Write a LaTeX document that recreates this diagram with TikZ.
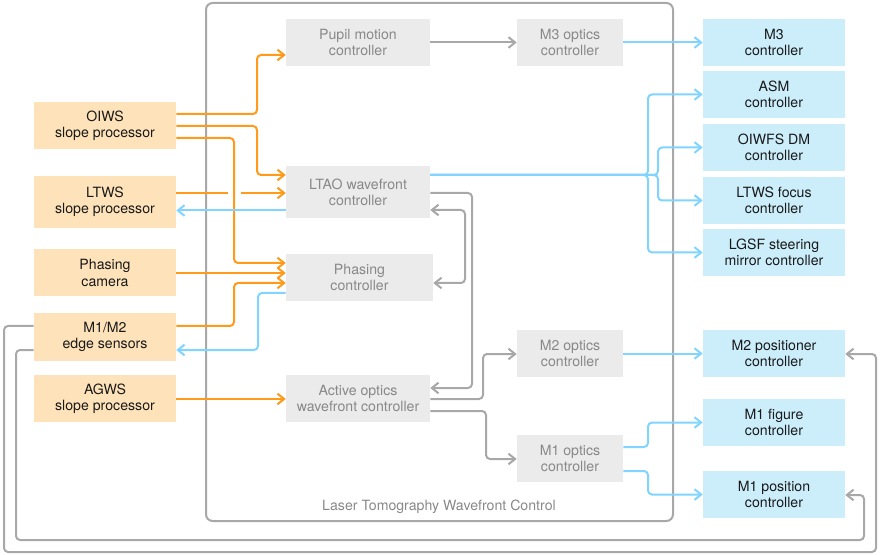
\documentclass[tikz,border=0pt]{standalone}
\usepackage{fontspec}
\setmainfont{TeX Gyre Heros}
\usepackage{tikz}
\usetikzlibrary{calc,arrows.meta}
\definecolor{srcfill}{HTML}{FEE3BA}
\definecolor{ctlfill}{HTML}{EBEBEB}
\definecolor{actfill}{HTML}{CCEEFB}
\definecolor{oline}{HTML}{FF9A1A}
\definecolor{bline}{HTML}{80D4FF}
\definecolor{gline}{HTML}{A8A8A8}
\definecolor{gtext}{HTML}{888888}
\tikzset{
    box/.style={inner sep=0pt, align=center, font=\fontsize{10.6}{12.2}\selectfont, minimum height=35.25pt},
    srcbox/.style={box, fill=srcfill, text=black!90, minimum width=106.5pt},
    ctlbox/.style={box, fill=ctlfill, text=gtext, minimum width=108pt},
    optbox/.style={box, fill=ctlfill, text=gtext, minimum width=79.5pt},
    actbox/.style={box, fill=actfill, text=black!90, minimum width=106.5pt},
    link/.style={line width=1.5pt, rounded corners=3pt, -{Straight Barb[length=5pt, width=8pt]}},
    olink/.style={link, draw=oline},
    blink/.style={link, draw=bline},
    glink/.style={link, draw=gline}
}
\begin{document}
\begin{tikzpicture}[x=0.75pt, y=-0.75pt]
    \useasboundingbox (0,0) rectangle (880,555);
    % frame
    \draw[gline, line width=1.5pt, rounded corners=5pt] (206,3) rectangle (673,521);
    \node[text=gtext, font=\fontsize{10.6}{12}\selectfont] (frame) at (439,507) {Laser Tomography Wavefront Control};
    % sources
    \node[srcbox] (oiws) at (105,125.5) {OIWS\\slope processor};
    \node[srcbox, minimum height=39pt] (ltws) at (105,202) {LTWS\\slope processor};
    \node[srcbox] (phcam) at (105,273) {Phasing\\camera};
    \node[srcbox] (m1m2) at (105,337) {M1/M2\\edge sensors};
    \node[srcbox] (agws) at (105,398.5) {AGWS\\slope processor};
    % controllers
    \node[ctlbox] (pupil) at (358,42.5) {Pupil motion\\controller};
    \node[ctlbox, minimum height=39pt] (ltao) at (358,192) {LTAO wavefront\\controller};
    \node[ctlbox, minimum width=110.25pt] (phctl) at (359.5,277.5) {Phasing\\controller};
    \node[ctlbox] (aowfc) at (358,398.5) {Active optics\\wavefront controller};
    \node[optbox] (m3opt) at (570,42.5) {M3 optics\\controller};
    \node[optbox] (m2opt) at (570,353.5) {M2 optics\\controller};
    \node[optbox] (m1opt) at (570,458.5) {M1 optics\\controller};
    % actuators
    \node[actbox] (m3c) at (774,42.5) {M3\\controller};
    \node[actbox] (asm) at (774,94.5) {ASM\\controller};
    \node[actbox] (oiwfsdm) at (774,147.5) {OIWFS DM\\controller};
    \node[actbox] (ltwsf) at (774,200.5) {LTWS focus\\controller};
    \node[actbox] (lgsf) at (774,252.5) {LGSF steering\\mirror controller};
    \node[actbox] (m2pos) at (774,353.5) {M2 positioner\\controller};
    \node[actbox] (m1fig) at (774,422.5) {M1 figure\\controller};
    \node[actbox] (m1pos) at (774,494.5) {M1 position\\controller};
    % slopes in
    \draw[olink] ($(oiws.east)+(0,-11.5)$) -| (257,55) -- ($(pupil.west)+(0,12.5)$);
    \draw[olink] ($(oiws.east)+(0,0.5)$) -| (257,175) -- ($(ltao.west)+(0,-17)$);
    \draw[olink] ($(oiws.east)+(0,12.5)$) -| (234,263) -- ($(phctl.west)+(0,-14.5)$);
    \draw[olink, -] ($(ltws.east)+(0,-9)$) -- (228,193);
    \draw[olink] (241,193) -- ($(ltao.west)+(0,1)$);
    \draw[olink] (phcam.east) -- ($(phctl.west)+(0,-4.5)$);
    \draw[olink] ($(m1m2.east)+(0,-11)$) -| (234,283) -- ($(phctl.west)+(0,5.5)$);
    \draw[olink] ($(agws.east)+(0,0.5)$) -- ($(aowfc.west)+(0,0.5)$);
    % commands out
    \draw[blink] ($(ltao.west)+(0,18.5)$) -- ($(ltws.east)+(0,8.5)$);
    \draw[blink] ($(phctl.west)+(0,15.5)$) -| (258,350) -- ($(m1m2.east)+(0,13)$);
    \draw[blink] (m3opt.east) -- (m3c.west);
    \draw[blink] ($(ltao.east)+(0,-17)$) -| (648,94.5) -- (asm.west);
    \draw[blink] ($(ltao.east)+(0,-17)$) -| (658,147.5) -- (oiwfsdm.west);
    \draw[blink] ($(ltao.east)+(0,-17)$) -| (658,200.5) -- (ltwsf.west);
    \draw[blink] ($(ltao.east)+(0,-17)$) -| (648,252.5) -- (lgsf.west);
    \draw[blink] (m2opt.east) -- (m2pos.west);
    \draw[blink] ($(m1opt.east)+(0,-11.5)$) -| (648,422.5) -- (m1fig.west);
    \draw[blink] ($(m1opt.east)+(0,12.5)$) -| (648,494.5) -- (m1pos.west);
    % internal
    \draw[glink] (pupil.east) -- (m3opt.west);
    \draw[glink] ($(ltao.east)+(0,1)$) -| (472,388) -- ($(aowfc.east)+(0,-10.5)$);
    \draw[glink, {Straight Barb[length=5pt, width=8pt]}-{Straight Barb[length=5pt, width=8pt]}] ($(ltao.east)+(0,18)$) -| (465,283) -- ($(phctl.east)+(0,5.5)$);
    \draw[glink] ($(aowfc.east)+(0,0.5)$) -| (483,354) -- ($(m2opt.west)+(0,0.5)$);
    \draw[glink] ($(aowfc.east)+(0,12.5)$) -| (486,459) -- ($(m1opt.west)+(0,0.5)$);
    % edge sensor feedback
    \draw[glink] ($(m1m2.west)+(0,-11)$) -| (4,552) -| (876,354) -- ($(m2pos.east)+(0,0.5)$);
    \draw[glink] ($(m1m2.west)+(0,13)$) -| (16,540) -| (864,495) -- ($(m1pos.east)+(0,0.5)$);
\end{tikzpicture}
\end{document}
